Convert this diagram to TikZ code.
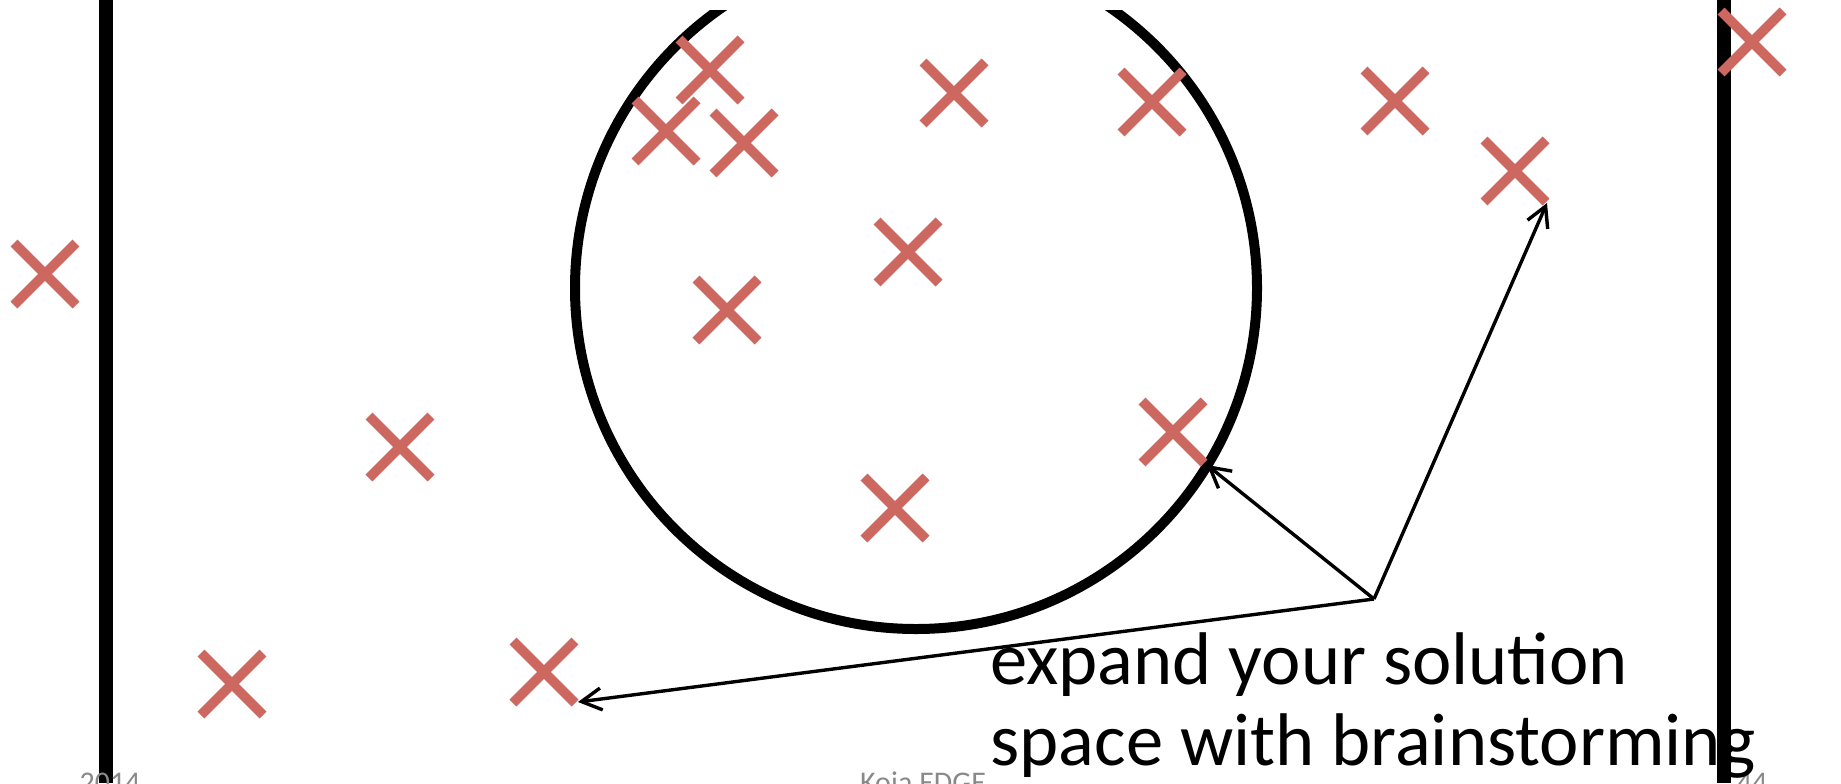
\documentclass[tikz,border=0pt]{standalone}
\usepackage{fontspec}
\setmainfont{Carlito}
\usetikzlibrary{shapes.misc,arrows.meta}
\definecolor{crossred}{RGB}{205,104,96}
\definecolor{footgray}{RGB}{137,137,137}
\tikzset{
  mark x/.style={cross out, draw=crossred, line width=4.8pt, minimum size=31pt, inner sep=0pt, outer sep=0pt},
  bar/.style={line width=7pt, draw=black},
  ring/.style={line width=5pt, draw=black},
  pointer/.style={line width=1.7pt, draw=black, -{Straight Barb[length=10pt,width=11pt,line width=1.7pt]}},
  bigtext/.style={font=\fontsize{37.3pt}{40.5pt}\selectfont, inner sep=0pt, anchor=base west},
  foot/.style={font=\fontsize{15pt}{18pt}\selectfont, text=footgray, inner sep=0pt, anchor=base}
}
\begin{document}
\begin{tikzpicture}[x=0.5pt,y=-0.5pt]
\useasboundingbox (0,0) rectangle (1841,783);
\clip (0,0) rectangle (1841,783);
\fill[white] (0,0) rectangle (1841,783);
% vertical bars
\coordinate (lt) at (106,0);
\coordinate (lb) at (106,783);
\coordinate (rt) at (1724,0);
\coordinate (rb) at (1724,783);
\draw[bar] (lt) -- (lb);
\draw[bar] (rt) -- (rb);
% circle
\begin{scope}
\clip (0,10) rectangle (1841,783);
\coordinate (cc) at (916,288);
\draw[ring] (cc) circle[radius=341];
\end{scope}
% footers
\node[foot] (f1) at (110,792) {2014};
\node[foot] (f2) at (923,792) {Koja EDGE};
\node[foot] (f3) at (1752,792) {44};
% crosses
\node[mark x] (x1) at (45,274) {};
\node[mark x] (x2) at (710,70) {};
\node[mark x] (x3) at (666,131) {};
\node[mark x] (x4) at (744,143) {};
\node[mark x] (x5) at (954,93) {};
\node[mark x] (x6) at (1152,102) {};
\node[mark x] (x7) at (1395,101) {};
\node[mark x] (x8) at (1515,171) {};
\node[mark x] (x9) at (1752,42) {};
\node[mark x] (x10) at (908,252) {};
\node[mark x] (x11) at (727,310) {};
\node[mark x] (x12) at (1173,432) {};
\node[mark x] (x13) at (400,447) {};
\node[mark x] (x14) at (895,508) {};
\node[mark x] (x15) at (232,684) {};
\node[mark x] (x16) at (544,672) {};
% arrows
\coordinate (o) at (1374,599);
\coordinate (ta) at (1207,465);
\coordinate (tb) at (1547,203);
\coordinate (tc) at (578,702);
\draw[pointer] (o) -- (ta);
\draw[pointer] (o) -- (tb);
\draw[pointer] (o) -- (tc);
% text
\node[bigtext] (l1) at (990,684) {expand your solution};
\node[bigtext] (l2) at (990,765) {space with brainstorming};
\end{tikzpicture}
\end{document}
